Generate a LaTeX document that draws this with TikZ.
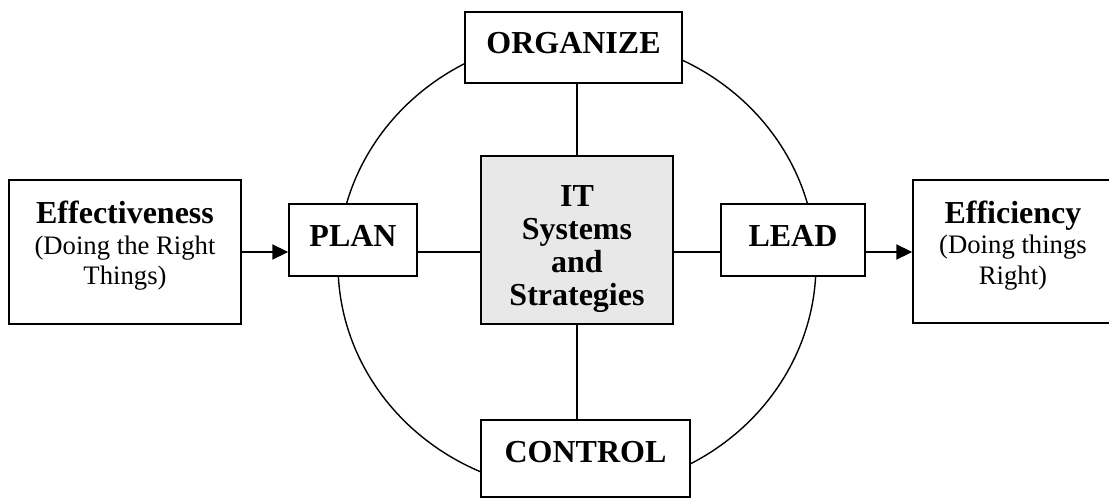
\documentclass[tikz,border=0pt]{standalone}
\usepackage{fontspec}
\setmainfont{Liberation Serif}
\usetikzlibrary{arrows.meta}
\definecolor{itgray}{HTML}{E8E8E8}
\begin{document}
\begin{tikzpicture}[x=1pt,y=-1pt,
  box/.style={draw, line width=1.5pt, fill=white, inner sep=0pt, align=center},
  boldtext/.style={font=\bfseries\fontsize{32}{33}\selectfont},
  plaintext/.style={font=\fontsize{26.7}{30.5}\selectfont},
  link/.style={line width=1.4pt},
  arr/.style={line width=2.2pt, -{Triangle[length=16pt,width=15pt]}}]
\useasboundingbox (0,0) rectangle (1109,498);
\draw[link] (577,264) ellipse [x radius=239, y radius=227];
\node[box, boldtext, minimum width=217pt, minimum height=71pt, text height=21pt, text depth=10pt] (org) at (573.5,47.5) {ORGANIZE};
\node[box, boldtext, minimum width=209pt, minimum height=77pt, text height=21pt, text depth=14pt] (ctrl) at (585.5,458.5) {CONTROL};
\node[box, boldtext, minimum width=128pt, minimum height=72pt, text height=21pt, text depth=9pt] (plan) at (353,240) {PLAN};
\node[box, boldtext, minimum width=144pt, minimum height=72pt, text height=21pt, text depth=9pt] (lead) at (793,240) {LEAD};
\node[box, boldtext, fill=itgray, minimum width=192pt, minimum height=168pt] (it) at (577,240) {\rule{0pt}{40pt}IT\\Systems\\and\\Strategies};
\node[box, plaintext, minimum width=232pt, minimum height=144pt] (eff) at (125,252) {{\bfseries\fontsize{32}{30.5}\selectfont Effectiveness}\\(Doing the Right\\Things)\rule[-18pt]{0pt}{0pt}};
\node[box, plaintext, minimum width=200pt, minimum height=143pt] (effc) at (1013,251.5) {{\bfseries\fontsize{32}{30.5}\selectfont Efficiency}\\(Doing things\\Right)\rule[-18pt]{0pt}{0pt}};
\draw[arr] (eff.east) -- (eff.east -| plan.west);
\draw[link] (plan.east |- eff.east) -- (it.west |- eff.east);
\draw[link] (it.east |- eff.east) -- (lead.west |- eff.east);
\draw[arr] (lead.east |- eff.east) -- (effc.west |- eff.east);
\draw[link] (it.north) -- (it.north |- org.south);
\draw[link] (it.south) -- (it.south |- ctrl.north);
\end{tikzpicture}
\end{document}
